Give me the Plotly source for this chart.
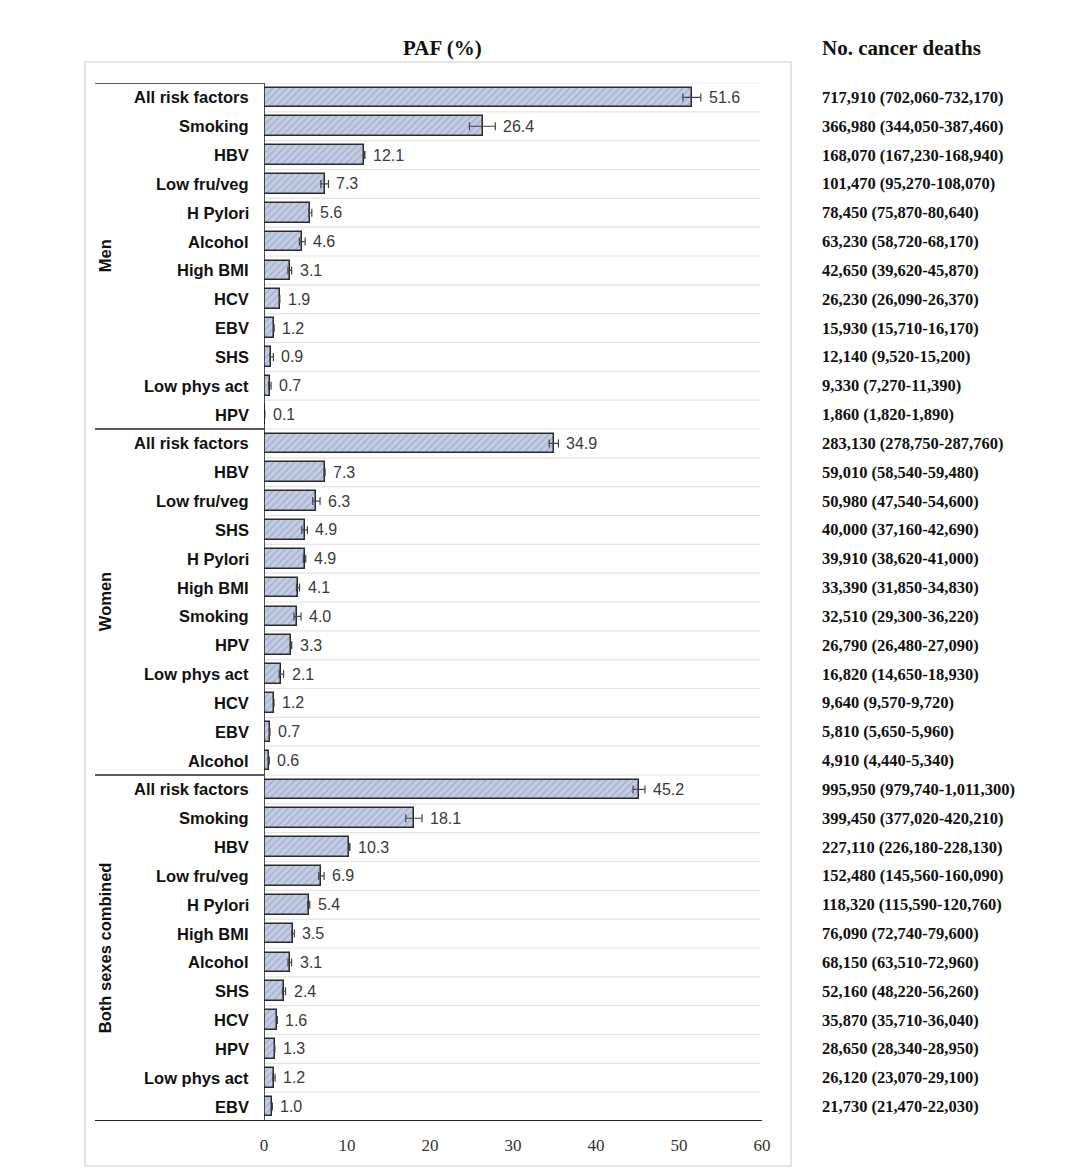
import plotly.graph_objects as go

groups = ["Men", "Women", "Both sexes combined"]

men_factors = ["All risk factors", "Smoking", "HBV", "Low fru/veg", "H Pylori", "Alcohol",
               "High BMI", "HCV", "EBV", "SHS", "Low phys act", "HPV"]
men_paf = [51.6, 26.4, 12.1, 7.3, 5.6, 4.6, 3.1, 1.9, 1.2, 0.9, 0.7, 0.1]
men_err_lo = [1.14, 1.65, 0.06, 0.45, 0.18, 0.33, 0.22, 0.01, 0.02, 0.19, 0.15, 0.002]
men_err_hi = [1.03, 1.47, 0.06, 0.47, 0.16, 0.36, 0.23, 0.01, 0.02, 0.23, 0.15, 0.002]
men_deaths = ["717,910 (702,060-732,170)", "366,980 (344,050-387,460)", "168,070 (167,230-168,940)",
              "101,470 (95,270-108,070)", "78,450 (75,870-80,640)", "63,230 (58,720-68,170)",
              "42,650 (39,620-45,870)", "26,230 (26,090-26,370)", "15,930 (15,710-16,170)",
              "12,140 (9,520-15,200)", "9,330 (7,270-11,390)", "1,860 (1,820-1,890)"]

women_factors = ["All risk factors", "HBV", "Low fru/veg", "SHS", "H Pylori", "High BMI",
                 "Smoking", "HPV", "Low phys act", "HCV", "EBV", "Alcohol"]
women_paf = [34.9, 7.3, 6.3, 4.9, 4.9, 4.1, 4.0, 3.3, 2.1, 1.2, 0.7, 0.6]
women_err_lo = [0.54, 0.06, 0.43, 0.35, 0.16, 0.19, 0.39, 0.04, 0.27, 0.01, 0.02, 0.06]
women_err_hi = [0.57, 0.06, 0.45, 0.33, 0.13, 0.18, 0.46, 0.04, 0.26, 0.01, 0.02, 0.05]
women_deaths = ["283,130 (278,750-287,760)", "59,010 (58,540-59,480)", "50,980 (47,540-54,600)",
                "40,000 (37,160-42,690)", "39,910 (38,620-41,000)", "33,390 (31,850-34,830)",
                "32,510 (29,300-36,220)", "26,790 (26,480-27,090)", "16,820 (14,650-18,930)",
                "9,640 (9,570-9,720)", "5,810 (5,650-5,960)", "4,910 (4,440-5,340)"]

both_factors = ["All risk factors", "Smoking", "HBV", "Low fru/veg", "H Pylori", "High BMI",
                "Alcohol", "SHS", "HCV", "HPV", "Low phys act", "EBV"]
both_paf = [45.2, 18.1, 10.3, 6.9, 5.4, 3.5, 3.1, 2.4, 1.6, 1.3, 1.2, 1.0]
both_err_lo = [0.74, 1.02, 0.05, 0.31, 0.12, 0.15, 0.21, 0.18, 0.01, 0.01, 0.14, 0.01]
both_err_hi = [0.70, 0.94, 0.05, 0.34, 0.11, 0.16, 0.22, 0.19, 0.01, 0.01, 0.14, 0.01]
both_deaths = ["995,950 (979,740-1,011,300)", "399,450 (377,020-420,210)", "227,110 (226,180-228,130)",
               "152,480 (145,560-160,090)", "118,320 (115,590-120,760)", "76,090 (72,740-79,600)",
               "68,150 (63,510-72,960)", "52,160 (48,220-56,260)", "35,870 (35,710-36,040)",
               "28,650 (28,340-28,950)", "26,120 (23,070-29,100)", "21,730 (21,470-22,030)"]

x_ticks = [0, 10, 20, 30, 40, 50, 60]

factors = men_factors + women_factors + both_factors
paf = men_paf + women_paf + both_paf
err_lo = men_err_lo + women_err_lo + both_err_lo
err_hi = men_err_hi + women_err_hi + both_err_hi
deaths = men_deaths + women_deaths + both_deaths
group_sizes = [len(men_factors), len(women_factors), len(both_factors)]
n = len(factors)
ypos = list(range(n))

fig = go.Figure()
fig.add_trace(go.Bar(
    x=paf, y=ypos, orientation="h", width=0.68,
    marker=dict(color="#bcc6de",
                line=dict(color="#2a2a2a", width=1.5),
                pattern=dict(shape="/", fgcolor="#8894b4", bgcolor="#c2cce4", size=5, solidity=0.3)),
    error_x=dict(type="data", array=err_hi, arrayminus=err_lo, symmetric=False,
                 color="#444444", thickness=1.2, width=4),
    hoverinfo="x+y", showlegend=False,
))

annotations = []
shapes = []

# row gridlines
for i in range(n):
    shapes.append(dict(type="line", xref="paper", yref="y", x0=0, x1=0.996,
                       y0=i - 0.5, y1=i - 0.5, line=dict(color="#e4e4e4", width=1.2), layer="below"))

# value labels, category labels, deaths text
for i in range(n):
    annotations.append(dict(x=paf[i] + err_hi[i], y=i, xref="x", yref="y", text=f"{paf[i]:.1f}",
                            showarrow=False, xanchor="left", yanchor="middle", xshift=6,
                            font=dict(family="Liberation Sans, Arial", size=16, color="#3a3a3a")))
    annotations.append(dict(x=0, y=i, xref="paper", yref="y", text=f"<b>{factors[i]}</b>",
                            showarrow=False, xanchor="right", yanchor="middle", xshift=-13,
                            font=dict(family="Liberation Sans, Arial", size=16.5, color="#111111")))
    annotations.append(dict(x=1.1165, y=i, xref="paper", yref="y", text=f"<b>{deaths[i]}</b>",
                            showarrow=False, xanchor="left", yanchor="middle",
                            font=dict(family="Liberation Serif, Times New Roman", size=16.5, color="#111111")))

# group separators and group labels
start = 0
for g, size in zip(groups, group_sizes):
    shapes.append(dict(type="line", xref="paper", yref="y", x0=-0.3394, x1=0,
                       y0=start - 0.5, y1=start - 0.5, line=dict(color="#222222", width=1.6)))
    annotations.append(dict(x=-0.319, y=start + (size - 1) / 2, xref="paper", yref="y",
                            text=f"<b>{g}</b>", textangle=-90, showarrow=False,
                            xanchor="center", yanchor="middle",
                            font=dict(family="Liberation Sans, Arial", size=16.5, color="#111111")))
    start += size

# bottom line
shapes.append(dict(type="line", xref="paper", yref="y", x0=-0.3394, x1=1.0,
                   y0=n - 0.5, y1=n - 0.5, line=dict(color="#222222", width=1.8)))
# vertical axis line
shapes.append(dict(type="line", xref="x", yref="y", x0=0, x1=0,
                   y0=-0.5, y1=n - 0.5, line=dict(color="#222222", width=1.6)))
# outer light frame
shapes.append(dict(type="rect", xref="paper", yref="paper", x0=-0.3594, x1=1.0582,
                   y0=-0.0434, y1=1.0202, line=dict(color="#dcdcdc", width=1.5), layer="below"))

# titles
annotations.append(dict(x=0.359, y=1.0337, xref="paper", yref="paper", text="<b>PAF (%)</b>",
                        showarrow=False, xanchor="center", yanchor="middle",
                        font=dict(family="Liberation Serif, Times New Roman", size=21, color="#111111")))
annotations.append(dict(x=1.1165, y=1.0337, xref="paper", yref="paper", text="<b>No. cancer deaths</b>",
                        showarrow=False, xanchor="left", yanchor="middle",
                        font=dict(family="Liberation Serif, Times New Roman", size=21, color="#111111")))

fig.update_layout(
    width=1080, height=1176,
    margin=dict(l=256, r=326, t=75, b=63),
    paper_bgcolor="white", plot_bgcolor="white",
    xaxis=dict(range=[0, 60], tickvals=x_ticks, ticktext=[str(v) for v in x_ticks],
               showgrid=False, zeroline=False, showline=False, ticks="",
               ticklabelstandoff=12,
               tickfont=dict(family="Liberation Serif, Times New Roman", size=17, color="#333333")),
    yaxis=dict(range=[n - 0.5, -0.5], showticklabels=False, showgrid=False, zeroline=False,
               showline=False, ticks=""),
    shapes=shapes, annotations=annotations, bargap=0,
)

fig.write_html("out.html")
